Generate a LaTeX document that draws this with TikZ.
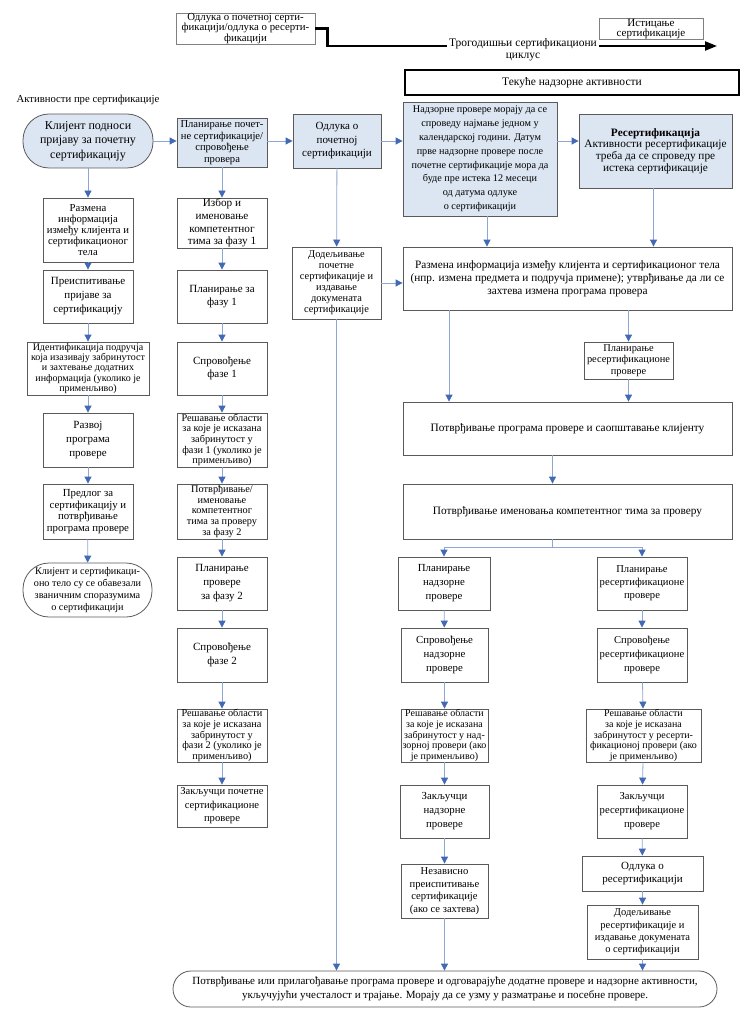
\documentclass[tikz,border=0pt]{standalone}
\usepackage{fontspec}
\setmainfont{Liberation Serif}
\usepackage{tikz}
\usetikzlibrary{arrows.meta, positioning}
\definecolor{paleblue}{HTML}{DCE6F2}
\definecolor{linkblue}{HTML}{8EA6D2}
\definecolor{tipblue}{HTML}{4169B4}
\definecolor{boxgray}{HTML}{5A5A5A}
\tikzstyle{process} = [rectangle, draw=boxgray, line width=0.8pt, fill=white, align=center, inner sep=0.5pt, font=\fontsize{11}{13.5}\selectfont]
\tikzstyle{stage} = [process, fill=paleblue]
\tikzstyle{tight} = [font=\fontsize{10.3}{10.6}\selectfont]
\tikzstyle{terminal} = [process, rounded corners=26pt]
\tikzstyle{arrow} = [draw=linkblue, line width=0.8pt, -{Triangle[length=7pt, width=7pt, color=tipblue]}]
\tikzstyle{link} = [draw=linkblue, line width=0.8pt]
\tikzstyle{cycleline} = [draw=black, line width=2.2pt]

\begin{document}
\begin{tikzpicture}[x=1pt, y=-1pt]
    \useasboundingbox (0,0) rectangle (754,1024);
    % Timeline
    \node (decide) [process, draw=gray, minimum width=139, minimum height=29, inner sep=0pt, font=\fontsize{10.8}{9.6}\selectfont] at (245.5,28.5) {Одлука о почетној серти-\\фикацији/одлука о ресерти-\\фикацији};
    \node (expire) [process, draw=gray, minimum width=104, minimum height=16, inner sep=0pt, font=\fontsize{11}{9}\selectfont] at (651,29) {Истицање\\сертификације};
    \node (cycle) [align=center, inner sep=2pt, font=\fontsize{11.5}{11.5}\selectfont] at (523,50) {Трогодишњи сертификациони\\циклус};
    \coordinate (expiry) at (717,46);
    \node (ongoing) [process, draw=black, line width=1.8pt, minimum width=334, minimum height=25, font=\fontsize{11.5}{13}\selectfont] at (572,82.5) {Текуће надзорне активности};
    \node (prelabel) [font=\fontsize{10.7}{12}\selectfont] at (88,100) {Активности пре сертификације};

    % Nodes: activities before certification
    \node (apply) [terminal, fill=paleblue, minimum width=130, minimum height=54, font=\fontsize{12}{14.5}\selectfont] at (88,141) {Клијент подноси\\пријаву за почетну\\сертификацију};
    \node (exch1) [process, minimum width=90, minimum height=64, font=\fontsize{10.7}{10.8}\selectfont] at (88,230) {Размена\\информација\\између клијента и\\сертификационог\\тела};
    \node (review) [process, minimum width=90, minimum height=53, font=\fontsize{11}{14}\selectfont] at (88,296.5) {Преиспитивање\\пријаве за\\сертификацију};
    \node (identify) [process, minimum width=122, minimum height=53, font=\fontsize{10}{10.4}\selectfont] at (88,368.5) {Идентификација подручја\\која изазивају забринутост\\и захтевање додатних\\информација (уколико је\\применљиво)};
    \node (develop) [process, minimum width=90, minimum height=54, font=\fontsize{11}{14}\selectfont] at (88,440) {Развој\\програма\\провере};
    \node (propose) [process, minimum width=90, minimum height=55, font=\fontsize{10.8}{11.5}\selectfont] at (88,511.5) {Предлог за\\сертификацију и\\потврђивање\\програма провере};
    \node (agree) [terminal, minimum width=129, minimum height=54, font=\fontsize{10.2}{11.7}\selectfont] at (87.5,590) {Клијент и сертификаци-\\оно тело су се обавезали\\званичним споразумима\\о сертификацији};

    % Nodes: initial certification
    \node (plan0) [stage, minimum width=90, minimum height=49, font=\fontsize{10.6}{11.5}\selectfont] at (222,142.5) {Планирање почет-\\не сертификације/\\спровођење\\провера};
    \node (team1) [process, minimum width=90, minimum height=50, font=\fontsize{11.2}{12.7}\selectfont] at (222,223) {Избор и\\именовање\\компетентног\\тима за фазу 1};
    \node (plan1) [process, minimum width=90, minimum height=53] at (222,296.5) {Планирање за\\фазу 1};
    \node (audit1) [process, minimum width=90, minimum height=53] at (222,368.5) {Спровођење\\фазе 1};
    \node (resolve1) [process, tight, minimum width=90, minimum height=54] at (222,440) {Решавање области\\за које је исказана\\забринутост у\\фази 1 (уколико је\\применљиво)};
    \node (team2) [process, tight, minimum width=90, minimum height=55] at (222,511.5) {Потврђивање/\\именовање\\компетентног\\тима за проверу\\за фазу 2};
    \node (plan2) [process, minimum width=90, minimum height=53, font=\fontsize{11}{14}\selectfont] at (222,583.5) {Планирање\\провере\\за фазу 2};
    \node (audit2) [process, minimum width=90, minimum height=54] at (222,655) {Спровођење\\фазе 2};
    \node (resolve2) [process, tight, minimum width=90, minimum height=53] at (222,735.5) {Решавање области\\за које је исказана\\забринутост у\\фази 2 (уколико је\\применљиво)};
    \node (concl) [process, minimum width=90, minimum height=42, font=\fontsize{10.6}{13.5}\selectfont] at (222,806) {Закључци почетне\\сертификационе\\провере};

    % Nodes: certification decision
    \node (grantdec) [stage, minimum width=88, minimum height=54] at (337,141) {Одлука о\\почетној\\сертификацији};
    \node (grant) [process, minimum width=89, minimum height=72, font=\fontsize{10.4}{11}\selectfont] at (336.5,283) {Додељивање\\почетне\\сертификације и\\издавање\\докумената\\сертификације};

    % Nodes: surveillance and recertification
    \node (survrule) [stage, font=\fontsize{10.2}{13.8}\selectfont, minimum width=154, minimum height=114] at (480,159) {Надзорне провере морају да се\\спроведу најмање једном у\\календарској години. Датум\\прве надзорне провере после\\почетне сертификације мора да\\буде пре истека 12 месеци\\од датума одлуке\\о сертификацији};
    \node (recert) [stage, minimum width=153, minimum height=74, font=\fontsize{11.3}{11.8}\selectfont] at (655.5,151) {\textbf{Ресертификација}\\Активности ресертификације\\треба да се спроведу пре\\истека сертификације};
    \node (exch2) [process, font=\fontsize{11.3}{13}\selectfont, minimum width=329, minimum height=63] at (567.5,278.5) {Размена информација између клијента и сертификационог тела\\(нпр. измена предмета и подручја примене); утврђивање да ли се\\захтева измена програма провера};
    \node (planre) [process, minimum width=89, minimum height=37, font=\fontsize{10.4}{11.5}\selectfont] at (628.5,360.5) {Планирање\\ресертификационе\\провере};
    \node (confprog) [process, minimum width=329, minimum height=53, font=\fontsize{11.3}{13}\selectfont] at (567.5,428.5) {Потврђивање програма провере и саопштавање клијенту};
    \node (confteam) [process, minimum width=329, minimum height=55, font=\fontsize{11.3}{13}\selectfont] at (567.5,511.5) {Потврђивање именовања компетентног тима за проверу};
    \node (plansurv) [process, minimum width=92, minimum height=53, font=\fontsize{10.8}{14}\selectfont] at (444,583.5) {Планирање\\надзорне\\провере};
    \node (planrec) [process, minimum width=90, minimum height=53, font=\fontsize{10.6}{13}\selectfont] at (642,583.5) {Планирање\\ресертификационе\\провере};
    \node (auditsurv) [process, minimum width=87, minimum height=54, font=\fontsize{10.8}{14}\selectfont] at (444.5,655) {Спровођење\\надзорне\\провере};
    \node (auditrec) [process, minimum width=90, minimum height=54, font=\fontsize{10.6}{14}\selectfont] at (642,655) {Спровођење\\ресертификационе\\провере};
    \node (ressurv) [process, minimum width=87, minimum height=53, font=\fontsize{10}{10.6}\selectfont] at (444.5,735.5) {Решавање области\\за које је исказана\\забринутост у над-\\зорној провери (ако\\је применљиво)};
    \node (resrec) [process, minimum width=115, minimum height=53, font=\fontsize{10}{10.6}\selectfont] at (643.5,735.5) {Решавање области\\за које је исказана\\забринутост у ресерти-\\фикационој провери (ако\\је применљиво)};
    \node (conclsurv) [process, minimum width=89, minimum height=53, font=\fontsize{10.8}{14}\selectfont] at (444.5,811.5) {Закључци\\надзорне\\провере};
    \node (conclrec) [process, minimum width=90, minimum height=53, font=\fontsize{10.6}{14}\selectfont] at (642,811.5) {Закључци\\ресертификационе\\провере};
    \node (indep) [process, minimum width=87, minimum height=54, font=\fontsize{10.6}{12.5}\selectfont] at (444.5,891) {Независно\\преиспитивање\\сертификације\\(ако се захтева)};
    \node (decrec) [process, minimum width=121, minimum height=35, font=\fontsize{11}{13}\selectfont] at (642.5,873.5) {Одлука о\\ресертификацији};
    \node (grantrec) [process, minimum width=111, minimum height=54, font=\fontsize{10.5}{12.3}\selectfont] at (642.5,932) {Додељивање\\ресертификације и\\издавање докумената\\о сертификацији};
    \node (final) [terminal, rounded corners=18pt, minimum width=544, minimum height=36, font=\fontsize{11}{14.5}\selectfont] at (445,989) {Потврђивање или прилагођавање програма провере и одговарајуће додатне провере и надзорне активности,\\укључујући учесталост и трајање. Морају да се узму у разматрање и посебне провере.};

    % Arrows
    \draw [cycleline] (decide.east) -- ++(12,0) |- (cycle.west |- expiry);
    \draw [cycleline, -{Triangle[length=12pt, width=9pt]}] (cycle.east |- expiry) -- (expiry);

    \draw [arrow] (apply) -- (exch1);
    \draw [arrow] (exch1) -- (review);
    \draw [arrow] (review) -- (identify);
    \draw [arrow] (identify) -- (develop);
    \draw [arrow] (develop) -- (propose);
    \draw [arrow] (propose) -- (agree);
    \draw [arrow] (apply.east) -- (apply.east -| plan0.west);

    \draw [arrow] (plan0) -- (team1);
    \draw [arrow] (team1) -- (plan1);
    \draw [arrow] (plan1) -- (audit1);
    \draw [arrow] (audit1) -- (resolve1);
    \draw [arrow] (resolve1) -- (team2);
    \draw [arrow] (team2) -- (plan2);
    \draw [arrow] (plan2) -- (audit2);
    \draw [arrow] (audit2) -- (resolve2);
    \draw [arrow] (resolve2) -- (concl);
    \draw [arrow] (plan0.east |- grantdec) -- (grantdec.west);

    \draw [arrow] (grantdec.east) -- (survrule.west |- grantdec);
    \draw [arrow] (survrule.east |- grantdec) -- (recert.west |- grantdec);
    \draw [arrow] (grantdec) -- (grant);
    \draw [arrow] (grant.east) -- (exch2.west |- grant);
    \draw [arrow] (grant.south) -- (grant.south |- final.north);
    \draw [arrow] ([xshift=7pt]survrule.south) -- ([xshift=7pt]survrule.south |- exch2.north);
    \draw [arrow] ([xshift=-2pt]recert.south) -- ([xshift=-2pt]recert.south |- exch2.north);

    \draw [arrow] ([xshift=5pt]plansurv |- exch2.south) -- ([xshift=5pt]plansurv |- confprog.north);
    \draw [arrow] (planre |- exch2.south) -- (planre.north);
    \draw [arrow] (planre.south) -- (planre |- confprog.north);
    \draw [arrow] ([xshift=-15pt]confprog.south) -- ([xshift=-15pt]confteam.north);
    \draw [link] ([xshift=-15pt]confteam.south) -- ++(0,8) coordinate (split);
    \draw [arrow] (split) -| (plansurv.north);
    \draw [arrow] (split) -| (planrec.north);

    \draw [arrow] (plansurv) -- (auditsurv);
    \draw [arrow] (auditsurv) -- (ressurv);
    \draw [arrow] (ressurv) -- (conclsurv);
    \draw [arrow] (conclsurv) -- (indep);
    \draw [arrow] (indep.south) -- (indep.south |- final.north);

    \draw [arrow] (planrec) -- (auditrec);
    \draw [arrow] (auditrec) -- (resrec);
    \draw [arrow] (resrec) -- (conclrec);
    \draw [arrow] (conclrec) -- (decrec);
    \draw [arrow] (decrec) -- (grantrec);
    \draw [arrow] (grantrec.south) -- (grantrec.south |- final.north);

\end{tikzpicture}
\end{document}
